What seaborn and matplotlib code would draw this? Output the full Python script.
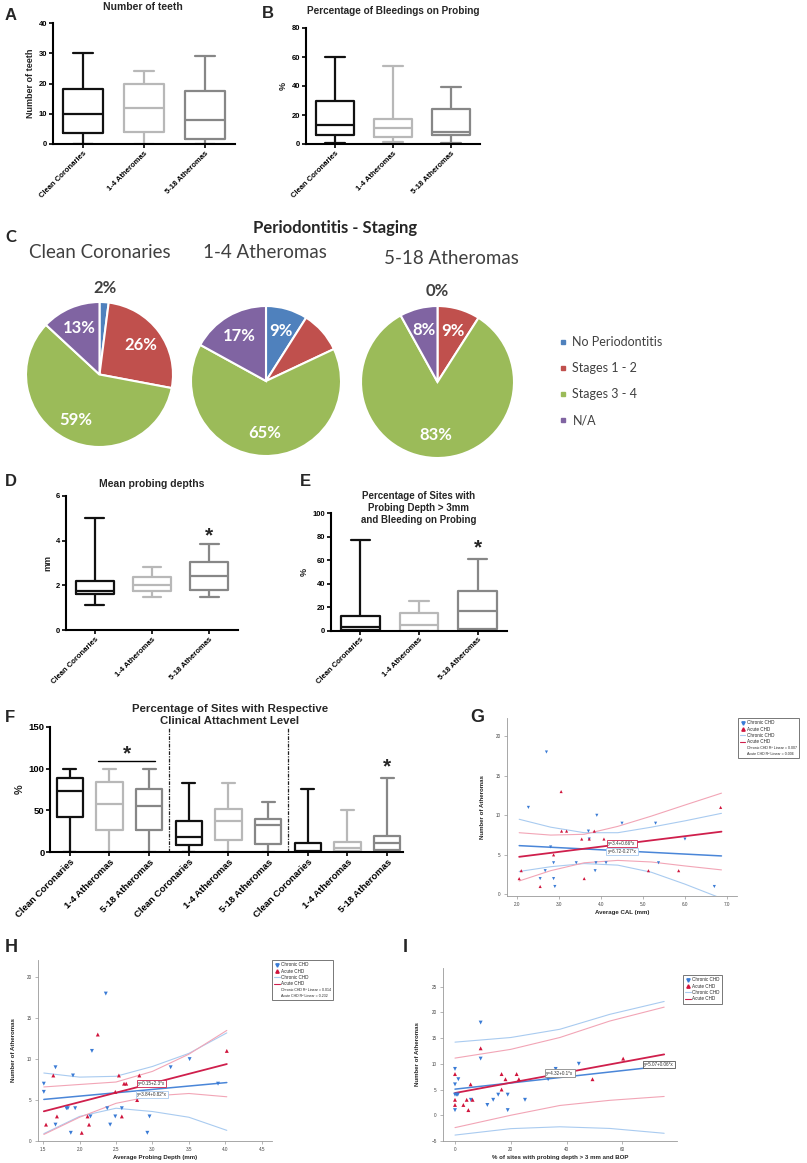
import matplotlib
matplotlib.use('Agg')
import matplotlib.pyplot as plt
from matplotlib.lines import Line2D
import seaborn as sns
import pandas as pd
import numpy as np

# ---------------- data ----------------
groups = ['Clean Coronaries', '1-4 Atheromas', '5-18 Atheromas']

# five-number summaries: min, q1, median, q3, max
teeth_stats = [[0, 3.5, 10, 18.3, 30], [0, 4, 12, 20, 24], [0, 1.5, 8, 17.5, 29]]
bop_stats = [[0.5, 6, 13, 30, 60], [1.5, 4.5, 11, 17.5, 54], [0.5, 6.5, 8.5, 24, 39]]
ppd_stats = [[1.12, 1.61, 1.76, 2.2, 5.0], [1.46, 1.75, 2.0, 2.39, 2.83], [1.46, 1.79, 2.43, 3.06, 3.84]]
pd_bop_stats = [[0, 0.5, 3, 12.5, 77], [0, 0, 4.5, 14.5, 25], [0, 1.5, 17, 33.5, 60.5]]
cal_stats = [[0, 42, 73, 89, 100], [0, 27, 58, 84, 100], [0, 27, 55, 76, 100],
             [0, 8, 18, 37, 83], [0, 14, 37, 52, 83], [0, 10, 32, 40, 60],
             [0, 0, 1, 11, 76], [0, 1.5, 5, 12, 51], [0, 2.5, 10.5, 19, 89]]

stage_labels = ['No Periodontitis', 'Stages 1 - 2', 'Stages 3 - 4', 'N/A']
pie_clean = [2, 26, 59, 13]
pie_1_4 = [9, 9, 65, 17]
pie_5_18 = [0, 9, 83, 8]
pie_clean_txt = ['2%', '26%', '59%', '13%']
pie_1_4_txt = ['9%', '', '65%', '17%']
pie_5_18_txt = ['0%', '9%', '83%', '8%']

# G: average CAL vs number of atheromas
g_chronic_x = [2.27, 2.7, 3.9, 4.5, 5.3, 3.7, 3.72, 6.0, 2.8, 2.87, 3.41, 3.88, 4.12, 5.37, 2.67, 3.86, 2.55, 2.87, 2.9, 6.7]
g_chronic_y = [11, 18, 10, 9, 9, 8, 7, 7, 6, 4, 4, 4, 4, 4, 3, 3, 2, 2, 1, 1]
g_acute_x = [3.05, 6.85, 3.06, 3.18, 3.84, 3.54, 3.72, 4.07, 2.87, 2.1, 5.13, 5.85, 2.05, 3.6, 2.55]
g_acute_y = [13, 11, 8, 8, 8, 7, 7, 7, 5, 3, 3, 3, 2, 2, 1]
g_fit_x = [2.05, 6.87]
g_chronic_fit = [6.72, -0.27]
g_acute_fit = [3.4, 0.66]
g_ci_x = [2.05, 2.8, 3.6, 4.4, 5.2, 6.0, 6.87]
g_chronic_up = [9.5, 8.5, 7.8, 7.8, 8.5, 9.3, 10.25]
g_chronic_lo = [2.9, 3.5, 3.9, 3.7, 2.8, 1.3, -0.5]
g_acute_up = [7.8, 7.5, 7.6, 8.6, 9.9, 11.3, 12.8]
g_acute_lo = [1.7, 3.0, 4.0, 4.3, 4.1, 3.6, 3.1]

# H: average probing depth vs number of atheromas
h_chronic_x = [1.51, 1.51, 1.67, 1.67, 1.82, 1.84, 1.91, 1.94, 1.88, 2.15, 2.17, 2.36, 2.38, 2.42, 2.49, 2.58, 2.93, 2.96, 3.25, 3.51, 3.90]
h_chronic_y = [7, 6, 9, 2, 4, 4, 8, 4, 1, 3, 11, 18, 4, 2, 3, 4, 1, 3, 9, 10, 7]
h_acute_x = [1.54, 1.64, 1.69, 2.03, 2.11, 2.13, 2.25, 2.49, 2.54, 2.58, 2.61, 2.64, 2.79, 2.82, 4.02]
h_acute_y = [2, 8, 3, 1, 3, 2, 13, 6, 8, 3, 7, 7, 5, 8, 11]
h_fit_x = [1.51, 4.02]
h_chronic_fit = [3.84, 0.82]
h_acute_fit = [0.15, 2.3]
h_ci_x = [1.51, 2.0, 2.5, 3.0, 3.5, 4.02]
h_chronic_up = [8.3, 7.8, 7.9, 9.1, 10.7, 13.2]
h_chronic_lo = [0.9, 3.0, 4.0, 3.6, 2.9, 1.3]
h_acute_up = [6.6, 6.9, 7.2, 8.5, 10.6, 13.5]
h_acute_lo = [0.8, 2.9, 4.6, 5.5, 5.8, 5.4]

# I: % sites PD > 3mm and BOP vs number of atheromas
i_chronic_x = [0, 0, 0, 0.6, 1, 0, 1.2, 5.7, 9.2, 9.2, 11.6, 13.7, 15.5, 18.9, 18.9, 25.1, 33.4, 36.1, 44.4]
i_chronic_y = [9, 6, 4, 4, 4, 1, 7, 3, 18, 11, 2, 3, 4, 4, 1, 3, 7, 9, 10]
i_acute_x = [0, 0, 0, 3, 4.2, 4.8, 5.6, 6.3, 9.2, 16.7, 16.7, 18.1, 22.1, 22.9, 49.3, 60.3]
i_acute_y = [8, 3, 2, 2, 3, 1, 6, 3, 13, 8, 5, 7, 8, 7, 7, 11]
i_fit_x = [0, 75]
i_chronic_fit = [5.07, 0.06]
i_acute_fit = [4.32, 0.1]
i_ci_x = [0, 20, 37.6, 55.5, 75]
i_chronic_up = [14.2, 15.1, 16.7, 19.6, 22.1]
i_chronic_lo = [-3.85, -2.6, -2.24, -2.56, -3.5]
i_acute_up = [11.1, 12.8, 15.1, 18.3, 21.0]
i_acute_lo = [-2.4, 0, 1.9, 2.9, 3.65]

# ---------------- style ----------------
sns.set_style('ticks')
plt.rcParams['font.family'] = ['Liberation Sans', 'DejaVu Sans']

W, H = 807, 1163
fig = plt.figure(figsize=(W / 100, H / 100), dpi=100)

BOX_COLORS = ['#111111', '#b8b8b8', '#878787']
PIE_COLORS = ['#4F81BD', '#C0504D', '#9BBB59', '#8064A2']
BLUE, RED = '#3a7bd5', '#d0143c'
BLUE_FIT, RED_FIT = '#4a86d8', '#cf1f4c'
BLUE_CI, RED_CI = '#a9cbf0', '#f2a5b6'


def add_ax(left, top, right, bottom):
    return fig.add_axes([left / W, 1 - bottom / H, (right - left) / W, (bottom - top) / H])


def ftext(x, y, s, **kw):
    fig.text(x / W, 1 - y / H, s, **kw)


def box_panel(ax, stats, ylim, yticks, ylabel, fs=5.5, xmax=None):
    rows = []
    for i, s in enumerate(stats):
        for v in s:
            rows.append({'slot': i, 'group': groups[i % 3], 'value': v})
    df = pd.DataFrame(rows)
    sns.boxplot(data=df, x='slot', y='value', hue='group', hue_order=groups,
                palette=BOX_COLORS, fill=False, whis=(0, 100), width=0.66,
                linewidth=1.6, legend=False, ax=ax)
    n = len(stats)
    ax.set_xlim(-0.5, (n - 0.5) if xmax is None else xmax)
    ax.set_ylim(*ylim)
    ax.set_yticks(yticks)
    ax.set_xticks(range(n))
    ax.set_xticklabels([groups[i % 3] for i in range(n)], rotation=45, ha='right',
                       rotation_mode='anchor', fontsize=fs, fontweight='bold')
    ax.set_yticklabels([f'{t:g}' for t in yticks], fontsize=fs, fontweight='bold')
    ax.set_xlabel('')
    ax.set_ylabel(ylabel, fontsize=fs + 1, fontweight='bold', labelpad=3)
    sns.despine(ax=ax)
    for sp in ['left', 'bottom']:
        ax.spines[sp].set_linewidth(1.5)
        ax.spines[sp].set_color('black')
    ax.tick_params(length=3, width=1.2, pad=1, colors='black')


def pie_panel(ax, values, texts):
    wedges, _ = ax.pie(values, colors=PIE_COLORS, startangle=90, counterclock=False,
                       wedgeprops=dict(edgecolor='white', linewidth=1.5))
    ax.set_aspect('auto')
    ax.set_xlim(-1, 1)
    ax.set_ylim(-1, 1)
    for w, v, t in zip(wedges, values, texts):
        if not t:
            continue
        ang = np.deg2rad((w.theta1 + w.theta2) / 2)
        if v < 5:
            r, col = 1.2, '#404040'
        else:
            r, col = 0.7, 'white'
        ax.text(r * np.cos(ang), r * np.sin(ang), t, ha='center', va='center',
                color=col, fontsize=12, fontweight='bold', family='Lato')


def scatter_panel(ax, cx, cy, axx, ay, fit_x, cfit, afit, ci_x, cup, clo, aup, alo,
                  xlim, ylim, xticks, xfmt, yticks, xlabel, msize):
    df = pd.DataFrame({'x': cx + axx, 'y': cy + ay,
                       'type': ['Chronic CHD'] * len(cx) + ['Acute CHD'] * len(axx)})
    sns.scatterplot(data=df, x='x', y='y', hue='type', style='type',
                    palette={'Chronic CHD': BLUE, 'Acute CHD': RED},
                    markers={'Chronic CHD': 'v', 'Acute CHD': '^'},
                    s=msize, linewidth=0, legend=False, ax=ax, zorder=3)
    fx = np.array(fit_x)
    ax.plot(ci_x, cup, color=BLUE_CI, lw=0.8)
    ax.plot(ci_x, clo, color=BLUE_CI, lw=0.8)
    ax.plot(ci_x, aup, color=RED_CI, lw=0.8)
    ax.plot(ci_x, alo, color=RED_CI, lw=0.8)
    ax.plot(fx, cfit[0] + cfit[1] * fx, color=BLUE_FIT, lw=1.1)
    ax.plot(fx, afit[0] + afit[1] * fx, color=RED_FIT, lw=1.3)
    ax.set_xlim(*xlim)
    ax.set_ylim(*ylim)
    ax.set_xticks(xticks)
    ax.set_xticklabels([xfmt.format(t) for t in xticks])
    ax.set_yticks(yticks)
    ax.set_xlabel(xlabel, fontsize=4.4, fontweight='bold', labelpad=2)
    ax.set_ylabel('Number of Atheromas', fontsize=4.4, fontweight='bold', labelpad=8)
    sns.despine(ax=ax)
    for sp in ['left', 'bottom']:
        ax.spines[sp].set_linewidth(0.6)
        ax.spines[sp].set_color('#999999')
    ax.tick_params(length=2, width=0.5, colors='#999999', labelcolor='#444444',
                   labelsize=3.3, pad=2.5)


def spss_legend(ax, anchor, r2=None):
    handles = [Line2D([], [], marker='v', color=BLUE, ls='none', markersize=2.4),
               Line2D([], [], marker='^', color=RED, ls='none', markersize=2.4),
               Line2D([], [], color=BLUE_CI, lw=0.8),
               Line2D([], [], color=RED_FIT, lw=0.8)]
    labels = ['Chronic CHD', 'Acute CHD', 'Chronic CHD', 'Acute CHD']
    if r2:
        for t in r2:
            handles.append(Line2D([], [], ls='none'))
            labels.append(t)
    leg = ax.legend(handles, labels, loc='upper left', bbox_to_anchor=anchor,
                    fontsize=3.3, frameon=True, fancybox=False, edgecolor='#555555',
                    handlelength=1.2, handletextpad=0.3, labelspacing=0.3,
                    borderpad=0.5, borderaxespad=0)
    leg.get_frame().set_linewidth(0.7)
    for t in leg.get_texts()[4:]:
        t.set_fontsize(2.6)


def eq_box(ax, x, y, s, ec):
    ax.text(x, y, s, fontsize=3.3, ha='center', va='center', color='#333333', zorder=5,
            bbox=dict(boxstyle='square,pad=0.25', fc='white', ec=ec, lw=0.6))


# ---------------- A ----------------
ax = add_ax(53, 23, 235, 144)
box_panel(ax, teeth_stats, (0, 40), [0, 10, 20, 30, 40], 'Number of teeth')
ftext(143, 7, 'Number of teeth', ha='center', va='center', fontsize=7.5, fontweight='bold')
ftext(5, 16, 'A', ha='left', va='center', fontsize=12, fontweight='bold')

# ---------------- B ----------------
ax = add_ax(306, 28, 480, 144)
box_panel(ax, bop_stats, (0, 80), [0, 20, 40, 60, 80], '%')
ftext(393, 11, 'Percentage of Bleedings on Probing', ha='center', va='center',
      fontsize=7.2, fontweight='bold')
ftext(262, 14, 'B', ha='left', va='center', fontsize=12, fontweight='bold')

# ---------------- C ----------------
ftext(5, 237, 'C', ha='left', va='center', fontsize=12, fontweight='bold', family='Lato')
ftext(335, 228, 'Periodontitis - Staging', ha='center', va='center', fontsize=12,
      fontweight='bold', family='Lato')
ftext(100, 253, 'Clean Coronaries', ha='center', va='center', fontsize=13.5,
      color='#404040', family='Lato')
ftext(265, 252, '1-4 Atheromas', ha='center', va='center', fontsize=13.5,
      color='#404040', family='Lato')
ftext(451, 258, '5-18 Atheromas', ha='center', va='center', fontsize=13.5,
      color='#404040', family='Lato')
pie_panel(add_ax(26, 302, 173, 447), pie_clean, pie_clean_txt)
pie_panel(add_ax(191, 306, 341, 456), pie_1_4, pie_1_4_txt)
pie_panel(add_ax(361, 306, 514, 458), pie_5_18, pie_5_18_txt)
handles = [Line2D([], [], marker='s', color=c, ls='none', markersize=3.5) for c in PIE_COLORS]
fig.legend(handles, stage_labels, loc='upper left', bbox_to_anchor=(560 / W, 1 - 336 / H),
           frameon=False, prop=dict(family='Lato', size=9), handlelength=0.5,
           handletextpad=0.5, labelspacing=1.12, borderaxespad=0, borderpad=0,
           labelcolor='#404040')

# ---------------- D ----------------
ax = add_ax(66, 496, 238, 630)
box_panel(ax, ppd_stats, (0, 6), [0, 2, 4, 6], 'mm')
ax.text(2, 4.2, '*', ha='center', va='center', fontsize=15, fontweight='bold')
ftext(152, 484, 'Mean probing depths', ha='center', va='center', fontsize=7.5, fontweight='bold')
ftext(5, 482, 'D', ha='left', va='center', fontsize=12, fontweight='bold')

# ---------------- E ----------------
ax = add_ax(331, 513, 507, 630.5)
box_panel(ax, pd_bop_stats, (0, 100), [0, 20, 40, 60, 80, 100], '%')
ax.text(2, 70, '*', ha='center', va='center', fontsize=15, fontweight='bold')
ftext(419, 508, 'Percentage of Sites with\nProbing Depth > 3mm\nand Bleeding on Probing',
      ha='center', va='center', fontsize=7, fontweight='bold', linespacing=1.3)
ftext(300, 482, 'E', ha='left', va='center', fontsize=12, fontweight='bold')

# ---------------- F ----------------
ax = add_ax(50, 727, 403, 852)
box_panel(ax, cal_stats, (0, 150), [0, 50, 100, 150], '%', fs=6.8, xmax=8.4)
for xv in [2.5, 5.5]:
    ax.axvline(xv, color='#222222', lw=0.9, ls=(0, (3, 1, 1, 1)))
ax.plot([0.7, 2.15], [109, 109], color='black', lw=1)
ax.text(1.45, 118, '*', ha='center', va='center', fontsize=15, fontweight='bold')
ax.text(8, 102, '*', ha='center', va='center', fontsize=15, fontweight='bold')
ftext(230, 715, 'Percentage of Sites with Respective\nClinical Attachment Level',
      ha='center', va='center', fontsize=8.2, fontweight='bold', linespacing=1.2)
ftext(5, 718, 'F', ha='left', va='center', fontsize=12, fontweight='bold')

# ---------------- G ----------------
ax = add_ax(507, 718, 737, 896)
scatter_panel(ax, g_chronic_x, g_chronic_y, g_acute_x, g_acute_y, g_fit_x,
              g_chronic_fit, g_acute_fit, g_ci_x, g_chronic_up, g_chronic_lo,
              g_acute_up, g_acute_lo, (1.76, 7.24), (-0.2, 22.3),
              [2, 3, 4, 5, 6, 7], '{:.1f}', [0, 5, 10, 15, 20], 'Average CAL (mm)', 5)
eq_box(ax, 4.5, 6.4, 'y=3.4+0.66*x', RED_FIT)
eq_box(ax, 4.5, 5.45, 'y=6.72-0.27*x', BLUE_CI)
spss_legend(ax, (1.003, 1.0), ['Chronic CHD R² Linear = 0.007', 'Acute CHD R² Linear = 0.006'])
ftext(470, 718, 'G', ha='left', va='center', fontsize=13, fontweight='bold')

# ---------------- H ----------------
ax = add_ax(38, 960, 272, 1141)
scatter_panel(ax, h_chronic_x, h_chronic_y, h_acute_x, h_acute_y, h_fit_x,
              h_chronic_fit, h_acute_fit, h_ci_x, h_chronic_up, h_chronic_lo,
              h_acute_up, h_acute_lo, (1.43, 4.64), (0, 22.1),
              [1.5, 2.0, 2.5, 3.0, 3.5, 4.0, 4.5], '{:.1f}', [0, 5, 10, 15, 20],
              'Average Probing Depth (mm)', 8)
eq_box(ax, 2.99, 7.05, 'y=0.15+2.3*x', RED_FIT)
eq_box(ax, 2.99, 5.7, 'y=3.84+0.82*x', BLUE_CI)
spss_legend(ax, (1.0, 1.0), ['Chronic CHD R² Linear = 0.014', 'Acute CHD R² Linear = 0.232'])
ftext(5, 948, 'H', ha='left', va='center', fontsize=13, fontweight='bold')

# ---------------- I ----------------
ax = add_ax(443, 968, 677, 1141)
scatter_panel(ax, i_chronic_x, i_chronic_y, i_acute_x, i_acute_y, i_fit_x,
              i_chronic_fit, i_acute_fit, i_ci_x, i_chronic_up, i_chronic_lo,
              i_acute_up, i_acute_lo, (-4.3, 79.6), (-5, 28.6),
              [0, 20, 40, 60], '{:d}', [-5, 0, 5, 10, 15, 20, 25],
              '% of sites with probing depth > 3 mm and BOP', 8)
eq_box(ax, 37.6, 8.2, 'y=4.32+0.1*x', '#888888')
eq_box(ax, 73, 9.9, 'y=5.07+0.06*x', '#555555')
spss_legend(ax, (1.026, 0.96))
ftext(403, 948, 'I', ha='left', va='center', fontsize=13, fontweight='bold')

fig.savefig('out.png', dpi=100)
